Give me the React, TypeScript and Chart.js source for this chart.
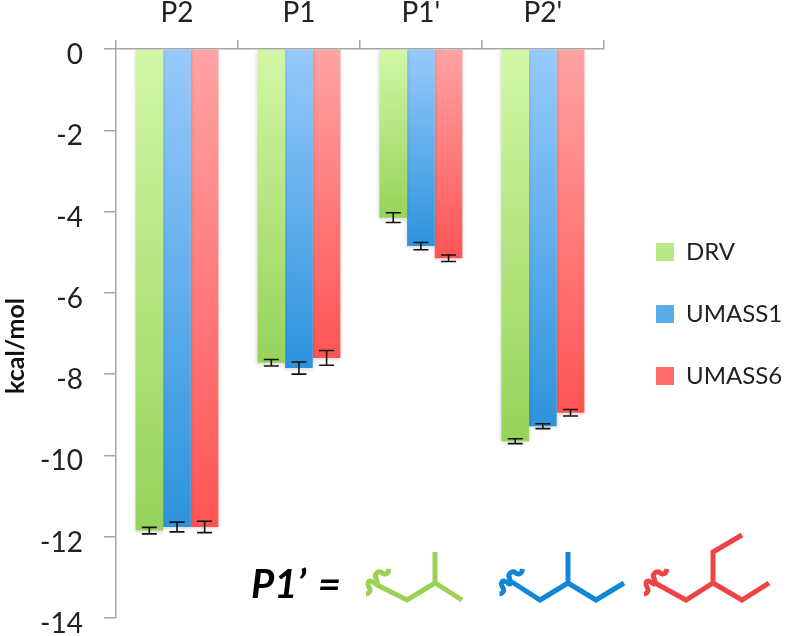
import React, { useEffect, useRef } from "react";
import { Chart, registerables } from "chart.js";

Chart.register(...registerables);

const categories = ["P2", "P1", "P1'", "P2'"];
const drv = [-11.85, -7.72, -4.15, -9.65];
const umass1 = [-11.76, -7.85, -4.85, -9.28];
const umass6 = [-11.76, -7.6, -5.15, -8.95];
const drvErr = [0.08, 0.08, 0.12, 0.06];
const umass1Err = [0.12, 0.15, 0.09, 0.06];
const umass6Err = [0.14, 0.18, 0.08, 0.08];
const yTicks = [0, -2, -4, -6, -8, -10, -12, -14];

const seriesStyles = [
  { label: "DRV", values: drv, errors: drvErr, top: "#D2F7A6", bottom: "#96D35A", legend: "#B4E582" },
  { label: "UMASS1", values: umass1, errors: umass1Err, top: "#97CAFC", bottom: "#2C93DC", legend: "#62AEEC" },
  { label: "UMASS6", values: umass6, errors: umass6Err, top: "#FFA3A3", bottom: "#FF5454", legend: "#FF8080" },
];

const FONT = "Lato, 'Noto Sans', sans-serif";
const AXIS = "#A6A6A6";
const LEGEND_PADDING = 38;

const squiggle =
  "M389,569 C388,575 384,575 381,572 C377,571 374,575 376,578 C377,581 378,584 376,584 C373,582 369,579 368,583 C367,586 371,588 370,591 C369,593 367,594 366,594";

export default function App() {
  const ref = useRef<HTMLCanvasElement>(null);

  useEffect(() => {
    document.body.style.margin = "0";
    const errorBars = {
      id: "errorBars",
      beforeDatasetsDraw(chart: any) {
        const c = chart.ctx;
        c.save();
        c.shadowColor = "rgba(0,0,0,0.18)";
        c.shadowBlur = 4;
        c.shadowOffsetY = 1;
      },
      afterDatasetsDraw(chart: any) {
        const c = chart.ctx;
        c.restore();
        c.save();
        c.strokeStyle = "#111";
        c.lineWidth = 1.6;
        seriesStyles.forEach((s, i) => {
          const meta = chart.getDatasetMeta(i);
          meta.data.forEach((bar: any, k: number) => {
            const y1 = chart.scales.y.getPixelForValue(s.values[k] + s.errors[k]);
            const y2 = chart.scales.y.getPixelForValue(s.values[k] - s.errors[k]);
            c.beginPath();
            c.moveTo(bar.x, y1);
            c.lineTo(bar.x, y2);
            c.moveTo(bar.x - 7.5, y1);
            c.lineTo(bar.x + 7.5, y1);
            c.moveTo(bar.x - 7.5, y2);
            c.lineTo(bar.x + 7.5, y2);
            c.stroke();
          });
        });
        c.restore();
      },
    };
    const layoutTweaks = {
      id: "layoutTweaks",
      afterLayout(chart: any) {
        const lg = chart.legend;
        const dx = 656 - LEGEND_PADDING - lg.left;
        lg.left += dx;
        lg.right += dx;
        lg.top += 5;
        lg.bottom += 5;
        // the value labels sit a little below their tick marks
        chart.scales.y.getLabelItems(chart.chartArea).forEach((item: any) => {
          item.options.translation[1] += 6;
        });
      },
    };

    const chart = new Chart(ref.current as HTMLCanvasElement, {
      type: "bar",
      data: {
        labels: categories,
        datasets: seriesStyles.map((s) => ({
          label: s.label,
          data: s.values,
          borderWidth: 0,
          categoryPercentage: 0.68,
          barPercentage: 1,
          backgroundColor: (ctx: any) => {
            const sc = ctx.chart.scales.y;
            if (!ctx.parsed || !sc) return s.legend;
            const y0 = sc.getPixelForValue(0);
            const y1 = sc.getPixelForValue(ctx.parsed.y);
            if (!Number.isFinite(y0) || !Number.isFinite(y1)) return s.legend;
            const g = ctx.chart.ctx.createLinearGradient(0, y0, 0, y1);
            g.addColorStop(0, s.top);
            g.addColorStop(1, s.bottom);
            return g;
          },
        })),
      },
      options: {
        responsive: false,
        animation: false,
        layout: { padding: { top: 0, bottom: 18, left: 0, right: 18 } },
        plugins: {
          tooltip: { enabled: false },
          title: { display: false },
          legend: {
            position: "right",
            labels: {
              boxWidth: 18,
              boxHeight: 18,
              padding: LEGEND_PADDING,
              color: "#222",
              font: { family: FONT, size: 24 },
            },
          },
        },
        scales: {
          x: {
            position: "top",
            grid: { drawOnChartArea: false, color: AXIS, tickLength: 9, lineWidth: 1.5, offset: true },
            border: { color: AXIS, width: 1.5 },
            ticks: { color: "#222", padding: 10, font: { family: FONT, size: 28 }, autoSkip: false, maxRotation: 0 },
            afterFit: (s: any) => {
              s.height = 49;
              s.paddingLeft = 0;
              s.paddingRight = 0;
            },
          },
          y: {
            min: -14,
            max: 0,
            afterBuildTicks: (s: any) => { s.ticks = yTicks.map((value) => ({ value })); },
            grid: { drawOnChartArea: false, color: AXIS, tickLength: 12, lineWidth: 1.5 },
            border: { color: AXIS, width: 1.5 },
            ticks: { color: "#222", padding: 21, font: { family: FONT, size: 28 } },
            afterFit: (s: any) => {
              s.width = 116;
              s.paddingTop = 0;
              s.paddingBottom = 0;
            },
          },
        },
      },
      plugins: [errorBars, layoutTweaks],
    } as any);
    return () => chart.destroy();
  }, []);

  const strokes = { fill: "none", strokeWidth: 5, strokeLinejoin: "miter" as const };
  return (
    <div style={{ position: "relative", width: 796, height: 636, overflow: "hidden", background: "#fff" }}>
      <canvas ref={ref} width={796} height={636} style={{ display: "block", filter: "blur(0.5px)" }} />
      <svg width={796} height={636} style={{ position: "absolute", left: 0, top: 0, filter: "blur(0.4px)" }}>
        <text
          x={0}
          y={0}
          transform="translate(24,346) rotate(-90)"
          textAnchor="middle"
          fontFamily={FONT}
          fontWeight="bold"
          fontSize={25}
          fill="#111"
        >
          kcal/mol
        </text>
        <text x={251} y={598} wordSpacing={3} fontFamily={FONT} fontWeight="bold" fontStyle="italic" fontSize={40} fill="#000">
          P1’ =
        </text>
        <g stroke="#9BD155">
          <path {...strokes} d="M377,585 L407,600 L435,583 L462,600 M435,583 L435,552" />
          <path fill="none" strokeWidth={5} d={squiggle} />
        </g>
        <g stroke="#0F86D6">
          <path {...strokes} d="M512,582 L540,600 L568,583 L596,600 L624,583 M568,583 L568,552" />
          <path fill="none" strokeWidth={5} d={squiggle} transform="translate(133.5,0)" />
        </g>
        <g stroke="#EF4444">
          <path {...strokes} d="M655,583 L686,600 L713,583 L742,600 L769,583 M713,583 L713,552 L742,535" />
          <path fill="none" strokeWidth={5} d={squiggle} transform="translate(278,0)" />
        </g>
      </svg>
    </div>
  );
}
